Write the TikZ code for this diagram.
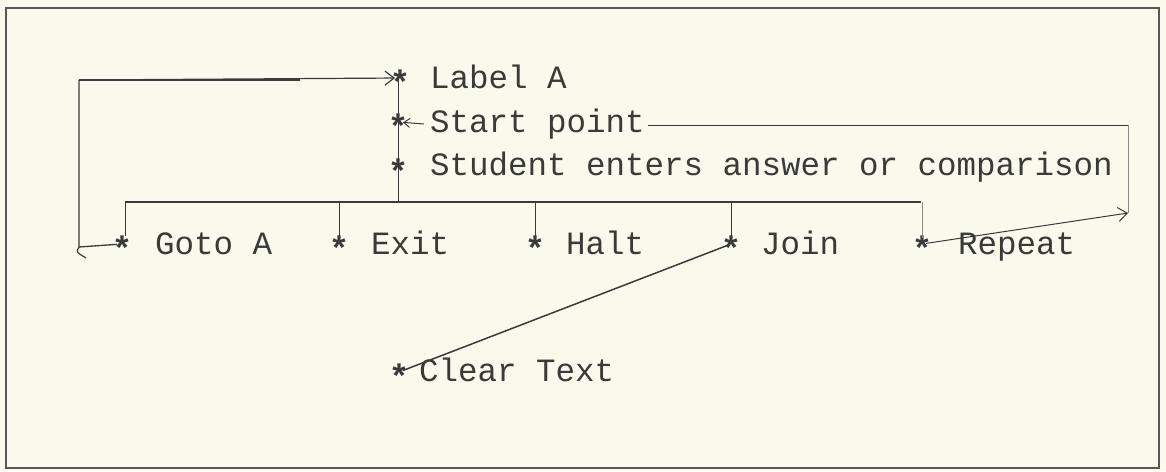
\documentclass[tikz,border=0pt]{standalone}
\usepackage{fontspec}
\newfontfamily\tw{Liberation Mono}
\usetikzlibrary{arrows.meta}
\definecolor{paper}{HTML}{FAFAEC}
\definecolor{ink}{HTML}{3A3A3A}
\definecolor{faint}{HTML}{8A8A86}
\tikzset{
  lbl/.style={font=\tw\fontsize{32.5}{38}\selectfont, text=ink, inner sep=0pt, anchor=base west},
  ast/.style={font=\tw\bfseries\fontsize{34}{40}\selectfont, text=ink, inner sep=0pt, text height=33pt, text depth=0pt},
  wire/.style={draw=ink, line width=1pt},
  lightwire/.style={draw=faint, line width=0.9pt},
  bus/.style={draw=ink, line width=2.2pt},
  border/.style={draw=ink!85, line width=2pt},
  barb/.style={-{Straight Barb[length=9pt,width=14pt]}},
}
\begin{document}
\begin{tikzpicture}[x=1pt,y=-1pt]
\fill[paper] (0,0) rectangle (1166,471);
\useasboundingbox (0,0) rectangle (1166,471);
\draw[border] (6,8) rectangle (1159,468);

% upper column of entries
\node[ast] (sA)     at (400,78)  {*};
\node[ast] (sStart) at (398,122) {*};
\node[ast] (sStud)  at (398,167) {*};
\node[lbl] (tA)     at (430,88)  {Label A};
\node[lbl] (tStart) at (430,132) {Start point};
\node[lbl] (tStud)  at (430,175) {Student enters answer or comparison};

% branch targets
\node[ast] (sGoto)  at (122,244) {*};
\node[ast] (sExit)  at (339,244) {*};
\node[ast] (sHalt)  at (535,244) {*};
\node[ast] (sJoin)  at (731,244) {*};
\node[ast] (sRep)   at (922,244) {*};
\node[ast] (sClear) at (399,372) {*};
\node[lbl] (tGoto)  at (155,254) {Goto A};
\node[lbl] (tExit)  at (371,254) {Exit};
\node[lbl] (tHalt)  at (566,254) {Halt};
\node[lbl] (tJoin)  at (761,254) {Join};
\node[lbl] (tRep)   at (958,254) {Repeat};
\node[lbl] (tClear) at (419,381) {Clear Text};

% junction points
\coordinate (bL) at (125,202);
\coordinate (bR) at (921,202);
\coordinate (bM) at (398,202);
\coordinate (gB) at (79,247);
\coordinate (gT) at (79,80);
\coordinate (gK) at (86,258);
\coordinate (rTop) at (1128,125);
\coordinate (rTip) at (1128,213);
\coordinate (spA) at (424,124);

% spine from Label A down to the choice bus
\draw[wire] (bM |- sA.center) -- (bM);
\draw[bus] (bL) -- (bR);

% drops from the bus to each branch
\draw[wire] (bL) -- (125,236);
\draw[wire, shorten >=7pt] (sExit |- bL) -- (sExit.center);
\draw[wire, shorten >=7pt] (sHalt |- bL) -- (sHalt.center);
\draw[wire, shorten >=6pt] (sJoin |- bL) -- (sJoin.center);
\draw[lightwire, shorten >=6pt] (sRep |- bR) -- (sRep.center);

% Goto A loops back to Label A
\draw[wire, line width=1.3pt, shorten <=5pt] (sGoto.center) -- (gB) -- (gT);
\draw[wire, line width=1.2pt] (gB) .. controls (76,252) .. (gK);
\draw[wire, line width=2.6pt] (gT) -- (300,80);
\draw[wire, line width=1.2pt, barb, shorten >=5pt] (gT) -- (sA.center);

% Repeat returns to the start point
\draw[wire, barb, shorten <=4pt] (sRep.center) -- (rTip);
\draw[lightwire] (rTip) -- (rTop);
\draw[wire] (rTop) -- ([xshift=3pt]tStart.east |- rTop);
\draw[wire, -{Straight Barb[length=6pt,width=9pt]}, shorten >=5pt] (spA) -- (sStart.center);

% Join leads to Clear Text
\draw[wire, line width=1.5pt, shorten <=4pt, shorten >=4pt] (sJoin.center) -- (sClear.center);
\end{tikzpicture}
\end{document}
